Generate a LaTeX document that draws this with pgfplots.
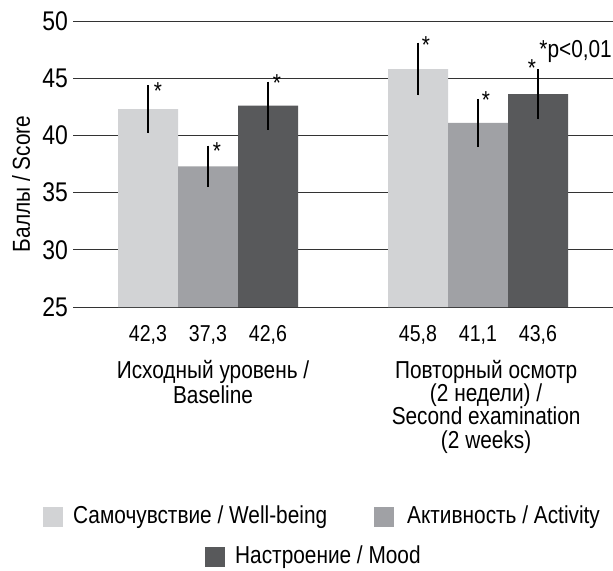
\documentclass[border=0pt]{standalone}
\usepackage{fontspec}
\setmainfont{Liberation Sans}[FakeStretch=0.85]
\usepackage{pgfplots}
\pgfplotsset{compat=1.18}
\definecolor{cA}{RGB}{210,211,213}
\definecolor{cB}{RGB}{160,161,165}
\definecolor{cC}{RGB}{88,89,91}
\newcommand\fA{\fontsize{24.5bp}{28bp}\selectfont}
\newcommand\fV{\fontsize{23bp}{26bp}\selectfont}
\newcommand\fT{\fontsize{27bp}{30bp}\selectfont}
\begin{document}
\begin{tikzpicture}[x=1bp,y=1bp]
\path[use as bounding box] (-73,-264) rectangle (540,307);
\begin{axis}[at={(0,0)}, anchor=south west, scale only axis,
  width=540bp, height=286bp,
  xmin=-0.5, xmax=1.5, ymin=25, ymax=50,
  ytick={25,30,35,40,45,50},
  xtick={-0.2222,0,0.2222,0.7778,1,1.2222},
  xticklabels={{42,3},{37,3},{42,6},{45,8},{41,1},{43,6}},
  x tick label style={font=\fV, anchor=base, inner sep=0pt, yshift=-34bp},
  y tick label style={font=\fT, anchor=east, inner sep=0pt, xshift=-5bp},
  /pgf/number format/assume math mode=true,
  major tick length=0pt,
  axis line style={draw=none},
  ymajorgrids, major grid style={black!80, line width=0.9bp},
  ybar=0pt, bar width=60bp,
  clip=false,
  error bars/error bar style={black, line width=1.4bp},
]
\addplot[fill=cA, draw=none, error bars/.cd, y dir=both, y explicit, error mark=none]
  coordinates {(0,42.3) +- (0,2.1) (1,45.8) +- (0,2.3)};
\addplot[fill=cB, draw=none, error bars/.cd, y dir=both, y explicit, error mark=none]
  coordinates {(0,37.3) +- (0,1.8) (1,41.1) +- (0,2.1)};
\addplot[fill=cC, draw=none, error bars/.cd, y dir=both, y explicit, error mark=none]
  coordinates {(0,42.6) +- (0,2.1) (1,43.6) +- (0,2.2)};
% significance asterisks
\node[font=\fA, anchor=base, inner sep=0pt, xshift=10bp, yshift=-14bp] at (axis cs:-0.2222,44.4) {*};
\node[font=\fA, anchor=base, inner sep=0pt, xshift=9bp, yshift=-14bp] at (axis cs:0,39.1) {*};
\node[font=\fA, anchor=base, inner sep=0pt, xshift=9bp, yshift=-10bp] at (axis cs:0.2222,44.7) {*};
\node[font=\fA, anchor=base, inner sep=0pt, xshift=8bp, yshift=-11bp] at (axis cs:0.7778,48.1) {*};
\node[font=\fA, anchor=base, inner sep=0pt, xshift=8bp, yshift=-10bp] at (axis cs:1,43.2) {*};
\node[font=\fA, anchor=base, inner sep=0pt, xshift=-6bp, yshift=-7bp] at (axis cs:1.2222,45.8) {*};
% group labels
\node[font=\fA, anchor=base, inner sep=0pt, yshift=-71bp] at (axis cs:0.0185,25) {Исходный уровень /};
\node[font=\fA, anchor=base, inner sep=0pt, yshift=-96bp] at (axis cs:0.0185,25) {Baseline};
\node[font=\fA, anchor=base, inner sep=0pt, yshift=-71bp] at (axis cs:1.03,25) {Повторный осмотр};
\node[font=\fA, anchor=base, inner sep=0pt, yshift=-94bp] at (axis cs:1.03,25) {(2 недели) /};
\node[font=\fA, anchor=base, inner sep=0pt, yshift=-117bp] at (axis cs:1.03,25) {Second examination};
\node[font=\fA, anchor=base, inner sep=0pt, yshift=-141bp] at (axis cs:1.03,25) {(2 weeks)};
\end{axis}
\node[font=\fA, anchor=base east, inner sep=0pt] at (539,249) {*p<0,01};
\node[font=\fA, rotate=90, inner sep=0pt] at (-52,123) {Баллы / Score};
% legend
\fill[cA] (-30,-220) rectangle (-10,-200);
\node[font=\fA, anchor=west, inner sep=0pt] at (0,-210) {Самочувствие / Well-being};
\fill[cB] (301,-220) rectangle (321,-200);
\node[font=\fA, anchor=west, inner sep=0pt] at (334,-210) {Активность / Activity};
\fill[cC] (132,-260) rectangle (152,-240);
\node[font=\fA, anchor=west, inner sep=0pt] at (162,-250) {Настроение / Mood};
\end{tikzpicture}
\end{document}
